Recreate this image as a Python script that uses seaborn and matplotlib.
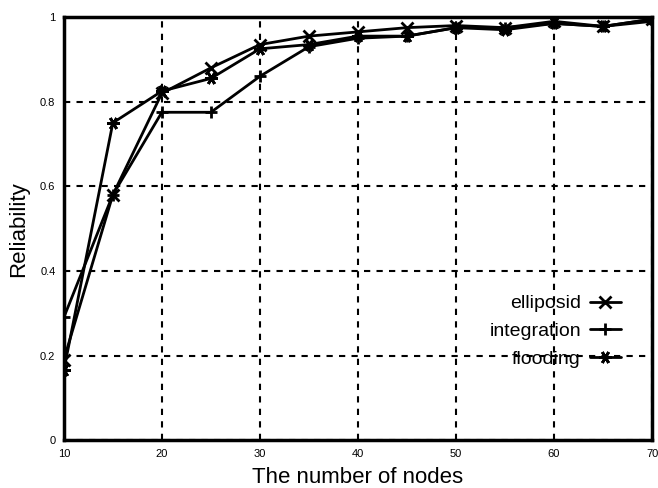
import matplotlib
matplotlib.use("Agg")
import matplotlib.pyplot as plt
import seaborn as sns
import pandas as pd

nodes = [10, 15, 20, 25, 30, 35, 40, 45, 50, 55, 60, 65, 70]
ellipsoid = [0.19, 0.58, 0.82, 0.88, 0.935, 0.955, 0.965, 0.975, 0.98, 0.975, 0.99, 0.978, 0.995]
integration = [0.29, 0.58, 0.775, 0.775, 0.86, 0.93, 0.95, 0.955, 0.975, 0.975, 0.985, 0.978, 0.99]
flooding = [0.165, 0.75, 0.825, 0.855, 0.925, 0.935, 0.955, 0.955, 0.975, 0.97, 0.985, 0.978, 0.995]
series_names = ["elliposid", "integration", "flooding"]
x_ticks = [10, 20, 30, 40, 50, 60, 70]
y_ticks = [0, 0.2, 0.4, 0.6, 0.8, 1.0]
y_tick_labels = ["0", "0.2", "0.4", "0.6", "0.8", "1"]

df = pd.DataFrame({
    "nodes": nodes * 3,
    "rel": ellipsoid + integration + flooding,
    "series": [series_names[0]] * len(nodes) + [series_names[1]] * len(nodes) + [series_names[2]] * len(nodes),
})

sns.set_style("white")
plt.rcParams["font.family"] = ["Liberation Sans", "DejaVu Sans"]
plt.rcParams["text.color"] = "black"
plt.rcParams["axes.labelcolor"] = "black"
plt.rcParams["xtick.color"] = "black"
plt.rcParams["ytick.color"] = "black"

fig = plt.figure(figsize=(6.58, 4.88), dpi=100)
ax = fig.add_axes([0.097, 0.098, 0.894, 0.867])

markers = {series_names[0]: "x", series_names[1]: "+", series_names[2]: (6, 2, 90)}
palette = {n: "black" for n in series_names}
sns.lineplot(data=df, x="nodes", y="rel", hue="series", style="series",
             markers=markers, dashes=False, palette=palette, ax=ax,
             linewidth=2, markersize=9, markeredgewidth=2,
             markeredgecolor="black", markerfacecolor="black", legend=True)

ax.set_xlim(10, 70)
ax.set_ylim(0, 1)
ax.set_xticks(x_ticks)
ax.set_yticks(y_ticks)
ax.set_yticklabels(y_tick_labels)
ax.tick_params(axis="both", labelsize=8, length=0, pad=6)
ax.grid(True, color="black", linestyle=(0, (3, 3)), linewidth=1.5)
for s in ax.spines.values():
    s.set_color("black")
    s.set_linewidth(2.5)
    s.set_visible(True)
ax.set_xlabel("The number of nodes", fontsize=16, labelpad=6)
ax.set_ylabel("Reliability", fontsize=16, labelpad=8)

handles, labels = ax.get_legend_handles_labels()
for h in handles:
    h.set_markeredgecolor("black")
    h.set_markerfacecolor("black")
    h.set_linestyle("-")
    h.set_markeredgewidth(2)
    h.set_markersize(9)
leg = ax.legend(handles, labels, loc="upper right", bbox_to_anchor=(0.96, 0.362),
                frameon=False, markerfirst=False, fontsize=14, handlelength=1.6,
                handletextpad=0.45, labelspacing=0.52, borderaxespad=0)
for t in leg.get_texts():
    t.set_ha("right")
leg._legend_box.align = "right"

fig.savefig("out.png", dpi=100)
